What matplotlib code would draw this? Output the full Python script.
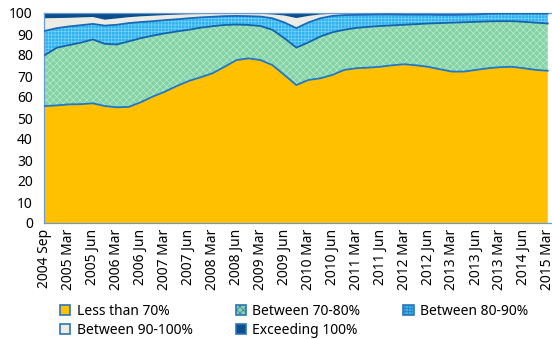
import numpy as np
import matplotlib
matplotlib.use("Agg")
import matplotlib.pyplot as plt
from matplotlib.patches import Rectangle

plt.rcParams['font.family'] = ['Noto Sans', 'DejaVu Sans']
plt.rcParams['hatch.linewidth'] = 0.45

# quarterly shares (%), every other quarter gets a label on the axis
tick_labels = ["2004 Sep", "2005 Mar", "2005 Jun", "2006 Mar", "2006 Jun", "2007 Mar",
               "2007 Jun", "2008 Mar", "2008 Jun", "2009 Mar", "2009 Jun", "2010 Mar",
               "2010 Jun", "2011 Mar", "2011 Jun", "2012 Mar", "2012 Jun", "2013 Mar",
               "2013 Jun", "2013 Mar", "2014 Jun", "2015 Mar"]

less_70 = [55.7, 56.0, 56.5, 56.6, 57.0, 55.7, 55.1, 55.3, 57.5, 60.2, 62.5, 65.2, 67.6, 69.4,
           71.3, 74.4, 77.6, 78.4, 77.6, 75.2, 70.5, 65.7, 68.1, 68.9, 70.5, 72.9, 73.7, 74.0,
           74.4, 75.1, 75.6, 75.1, 74.4, 73.2, 72.1, 72.1, 72.9, 73.7, 74.2, 74.4, 73.7, 72.9, 72.5]
btw_70_80 = [24.3, 27.5, 28.2, 29.3, 30.4, 29.6, 29.9, 31.2, 30.5, 29.0, 27.8, 26.0, 24.4, 23.6,
             22.4, 19.9, 16.9, 15.9, 16.2, 16.8, 17.5, 17.8, 17.9, 19.9, 20.3, 19.1, 19.2, 19.4,
             19.4, 19.0, 18.8, 19.6, 20.6, 22.0, 23.3, 23.5, 22.9, 22.3, 21.9, 21.7, 22.1, 22.5, 22.5]
btw_80_90 = [11.5, 9.3, 8.9, 8.3, 7.4, 8.7, 9.4, 8.7, 7.7, 6.9, 6.3, 5.8, 5.5, 4.9,
             4.5, 4.2, 4.1, 4.2, 4.5, 5.5, 7.5, 9.3, 9.5, 8.7, 7.8, 7.0, 6.2, 5.8,
             5.5, 5.2, 4.8, 4.5, 4.2, 3.9, 3.7, 3.6, 3.5, 3.6, 3.6, 3.6, 3.9, 4.3, 4.7]
btw_90_100 = [6.0, 4.8, 4.1, 3.7, 3.3, 2.8, 3.0, 2.8, 2.7, 2.6, 2.4, 2.2, 1.9, 1.6,
              1.4, 1.2, 1.1, 1.2, 1.3, 1.8, 3.3, 4.8, 3.1, 1.8, 1.0, 0.8, 0.7, 0.6,
              0.5, 0.5, 0.6, 0.6, 0.6, 0.7, 0.7, 0.6, 0.5, 0.3, 0.2, 0.2, 0.2, 0.2, 0.2]
over_100 = [2.5, 2.4, 2.3, 2.1, 1.9, 3.2, 2.6, 2.0, 1.6, 1.3, 1.0, 0.8, 0.6, 0.5,
            0.4, 0.3, 0.3, 0.3, 0.4, 0.7, 1.2, 2.4, 1.4, 0.7, 0.4, 0.2, 0.2, 0.2,
            0.2, 0.2, 0.2, 0.2, 0.2, 0.2, 0.2, 0.2, 0.2, 0.1, 0.1, 0.1, 0.1, 0.1, 0.1]

names = ["Less than 70%", "Between 70-80%", "Between 80-90%", "Between 90-100%", "Exceeding 100%"]
series = [less_70, btw_70_80, btw_80_90, btw_90_100, over_100]
faces = ["#FFC000", "#84D3A5", "#30B4F0", "#ECEBE4", "#0B4F8C"]
hatch_cols = [None, "#BDEBD0", "#7CD2F8", None, None]
hatches = [None, "xxxxx", "+++++", None, None]
line_cols = ["#1F78C8", "#1463AE", "#1A6AB8", None, None]

x = np.arange(len(less_70))
tops = np.cumsum(np.array(series), axis=0)
bottoms = np.vstack([np.zeros(len(x)), tops[:-1]])

fig = plt.figure(figsize=(5.52, 3.39), dpi=100)
ax = fig.add_axes([44 / 552, 1 - 223 / 339, 512 / 552, 210 / 339])

for k in range(len(series)):
    if hatches[k]:
        ax.fill_between(x, bottoms[k], tops[k], facecolor=faces[k], edgecolor=hatch_cols[k],
                        hatch=hatches[k], linewidth=0, zorder=2)
    else:
        ax.fill_between(x, bottoms[k], tops[k], facecolor=faces[k], linewidth=0, zorder=2)
for k in range(3):
    ax.plot(x, tops[k], color=line_cols[k], lw=1.3, zorder=3)

ax.set_xlim(-0.08, 42.69)
ax.set_ylim(0, 100)
ax.set_yticks(range(0, 101, 10))
ax.set_xticks(x[::2])
ax.set_xticklabels(tick_labels, rotation=90)
ax.tick_params(axis='y', length=0, pad=8, labelsize=10)
ax.tick_params(axis='x', length=0, pad=4, labelsize=10)
for s in ax.spines.values():
    s.set_color("#6C9BD2")
    s.set_linewidth(0.9)

handles = []
for k in range(len(series)):
    handles.append(Rectangle((0, 0), 1, 1, facecolor=faces[k], edgecolor="#2E75B6",
                             linewidth=1.2, hatch=hatches[k]))
order = [0, 3, 1, 4, 2]
fig.legend([handles[i] for i in order], [names[i] for i in order], ncol=3,
           loc='upper left', bbox_to_anchor=(0.086, 0.14), frameon=False,
           fontsize=10, handlelength=0.75, handleheight=0.75, handletextpad=0.45,
           columnspacing=3.1, labelspacing=0.3, borderpad=0.4)

fig.savefig("out.png", dpi=100)
